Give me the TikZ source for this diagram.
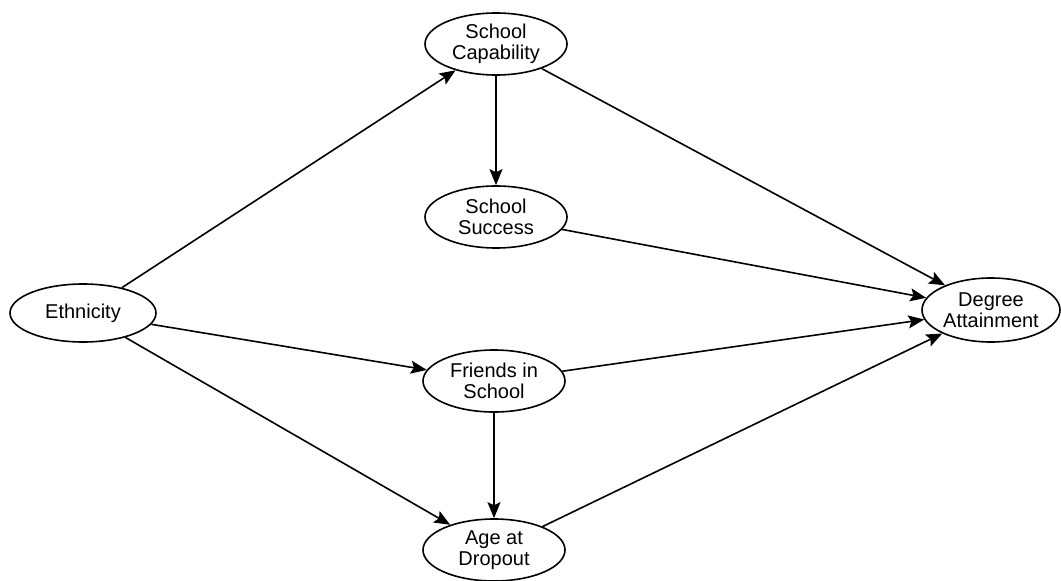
\documentclass[tikz,border=0pt]{standalone}
\usepackage{fontspec}
\setmainfont{Liberation Sans}
\usetikzlibrary{shapes.geometric,arrows.meta}
\begin{document}
\begin{tikzpicture}[x=1pt,y=-1pt,
  var/.style={ellipse,draw,line width=1.6pt,inner sep=0pt,minimum width=142pt,minimum height=62pt,
    align=center,font=\fontsize{20}{21}\selectfont},
  link/.style={line width=1.6pt,-{Stealth[length=16pt,width=13pt,inset=3pt]}}]
\useasboundingbox (0,0) rectangle (1061,581);
\node[var,minimum width=146pt,minimum height=58pt] (eth) at (83,313) {Ethnicity};
\node[var] (cap) at (496,44) {School\\Capability};
\node[var] (suc) at (496,217) {School\\Success};
\node[var] (fri) at (494,381) {Friends in\\School};
\node[var] (age) at (494,550) {Age at\\Dropout};
\node[var,minimum width=138pt,minimum height=64pt] (deg) at (991,310) {Degree\\Attainment};
\draw[link] (eth) -- (cap);
\draw[link] (eth) -- (fri);
\draw[link] (eth) -- (age);
\draw[link] (cap) -- (suc);
\draw[link] (cap) -- (deg);
\draw[link] (suc) -- (deg);
\draw[link] (fri) -- (deg);
\draw[link] (fri) -- (age);
\draw[link] (age) -- (deg);
\end{tikzpicture}
\end{document}
